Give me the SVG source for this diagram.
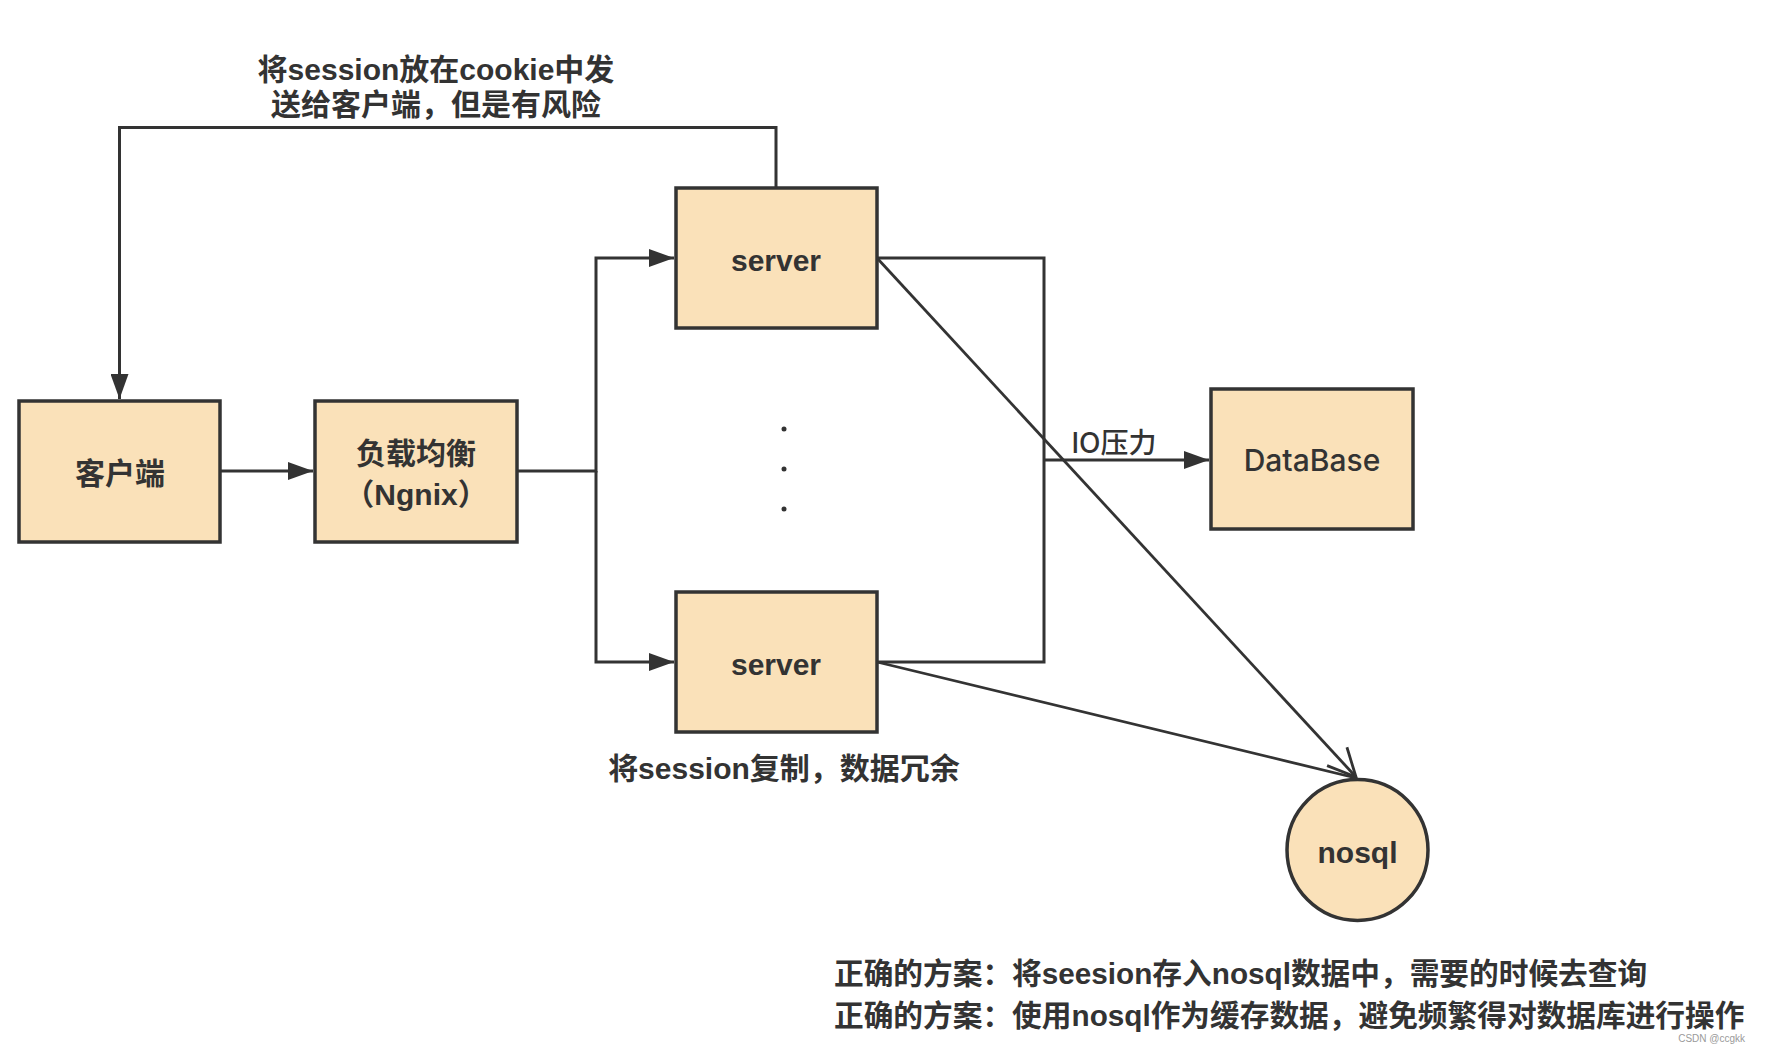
<svg xmlns="http://www.w3.org/2000/svg" width="1766" height="1054" viewBox="0 0 1766 1054">
<style>
.box{fill:#FAE1B9;stroke:#333333;stroke-width:3.5}
.lbl{font-family:"Liberation Sans","Noto Sans CJK SC",sans-serif;font-weight:bold;font-size:30px;fill:#333333;text-anchor:middle;dominant-baseline:central}
.med{font-family:Inter,"Noto Sans CJK SC",sans-serif;font-weight:500}
.ln{fill:none;stroke:#333333;stroke-width:3}
.dg{fill:none;stroke:#333333;stroke-width:2.8}
.note{font-family:"Liberation Sans","Noto Sans CJK SC",sans-serif;font-weight:bold;font-size:29.7px;fill:#333333;dominant-baseline:central}
</style>
<defs>
<marker id="arr" markerUnits="userSpaceOnUse" viewBox="0 0 25 18" refX="25" refY="9" markerWidth="25" markerHeight="18" orient="auto">
<path d="M0,0 L25,9 L0,18 z" fill="#333333"/>
</marker>
<marker id="open" markerUnits="userSpaceOnUse" viewBox="-2 -2 32 31" refX="28" refY="13.5" markerWidth="32" markerHeight="31" orient="auto">
<path d="M0,0 L28,13.5 L0,27" fill="none" stroke="#333333" stroke-width="2.8"/>
</marker>
</defs>
<rect width="1766" height="1054" fill="#ffffff"/>

<g id="connectors">
<path class="ln" d="M776,188 V127.5 H119.5 V399" marker-end="url(#arr)"/>
<path class="ln" d="M220,471 H313" marker-end="url(#arr)"/>
<path class="ln" d="M517,471 H596 V258 H674" marker-end="url(#arr)"/>
<path class="ln" d="M596,471 V662 H674" marker-end="url(#arr)"/>
<path class="ln" d="M877,258 H1044 V662 H877"/>
<path class="ln" d="M1044,460 H1209" marker-end="url(#arr)"/>
<path class="dg" d="M877,258 L1356,777" marker-end="url(#open)"/>
<path class="dg" d="M877,662 L1356,778"/>
</g>

<text class="lbl" x="436" y="69">将session放在cookie中发</text>
<text class="lbl" x="436" y="104">送给客户端，但是有风险</text>

<g id="client">
<rect class="box" x="19" y="401" width="201" height="141"/>
<text class="lbl" x="120" y="473">客户端</text>
</g>
<g id="lb">
<rect class="box" x="315" y="401" width="202" height="141"/>
<text class="lbl" x="416" y="453">负载均衡</text>
<text class="lbl" x="416" y="494">（Ngnix）</text>
</g>
<g id="server1">
<rect class="box" x="676" y="188" width="201" height="140"/>
<text class="lbl" x="776" y="260">server</text>
</g>
<g id="dots">
<circle cx="784" cy="429" r="2.5" fill="#333333"/>
<circle cx="784" cy="469" r="2.5" fill="#333333"/>
<circle cx="784" cy="509" r="2.5" fill="#333333"/>
</g>
<g id="server2">
<rect class="box" x="676" y="592" width="201" height="140"/>
<text class="lbl" x="776" y="664">server</text>
</g>
<text class="lbl" x="784" y="768">将session复制，数据冗余</text>

<g id="database">
<rect class="box" x="1211" y="389" width="202" height="140"/>
<text class="lbl med" x="1312" y="460">DataBase</text>
</g>
<text class="lbl med" x="1114" y="443" style="font-size:28px">IO压力</text>

<g id="nosql">
<ellipse class="box" cx="1357.5" cy="850" rx="70.5" ry="70.5"/>
<text class="lbl" x="1357.5" y="852">nosql</text>
</g>

<text class="note" x="834" y="973">正确的方案：将seesion存入nosql数据中，需要的时候去查询</text>
<text class="note" x="834" y="1015">正确的方案：使用nosql作为缓存数据，避免频繁得对数据库进行操作</text>
<text x="1745" y="1042" style="font-family:'Liberation Sans',sans-serif;font-size:10px;fill:#9a9a9a;text-anchor:end">CSDN @ccgkk</text>
</svg>
